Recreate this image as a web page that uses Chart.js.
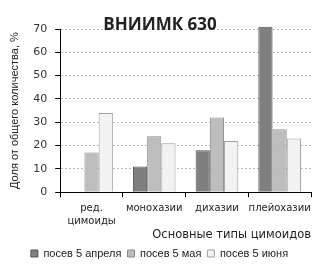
<!DOCTYPE html>
<html>
<head>
<meta charset="utf-8">
<script src="https://cdn.jsdelivr.net/npm/chart.js@4.4.1/dist/chart.umd.min.js"></script>
<style>
  body { margin: 0; background: #fff; }
  canvas { display: block; }
</style>
</head>
<body>
<canvas id="chart" width="322" height="275"></canvas>
<script>
const categories = [['ред.', 'цимоиды'], 'монохазии', 'дихазии', 'плейохазии'];
const april = [0, 11, 18, 71];
const may = [17, 24, 32, 27];
const june = [34, 21, 22, 23];
const seriesNames = ['посев 5 апреля', 'посев 5 мая', 'посев 5 июня'];
const yTicks = [0, 10, 20, 30, 40, 50, 60, 70];

const titlePlugin = {
  id: 'topTitle',
  afterDraw(chart) {
    const ctx = chart.ctx;
    ctx.save();
    ctx.font = 'bold 17px "Open Sans", sans-serif';
    ctx.fillStyle = '#222';
    ctx.textAlign = 'center';
    ctx.textBaseline = 'middle';
    ctx.fillText('ВНИИМК 630', 160, 25);
    ctx.restore();
  }
};

new Chart(document.getElementById('chart'), {
  type: 'bar',
  data: {
    labels: categories,
    datasets: [
      { label: seriesNames[0], data: april, backgroundColor: '#7f7f7f', borderColor: '#555', borderWidth: 1 },
      { label: seriesNames[1], data: may, backgroundColor: '#bdbdbd', borderColor: '#8a8a8a', borderWidth: 1 },
      { label: seriesNames[2], data: june, backgroundColor: '#f2f2f2', borderColor: '#a0a0a0', borderWidth: 1 }
    ]
  },
  options: {
    responsive: false,
    animation: false,
    layout: { padding: { top: 29, right: 11, left: 8, bottom: 6 } },
    datasets: { bar: { categoryPercentage: 0.68, barPercentage: 1, clip: false } },
    plugins: {
      title: { display: false },
      tooltip: { enabled: false },
      legend: {
        position: 'bottom',
        align: 'center',
        labels: {
          boxWidth: 7,
          boxHeight: 7,
          padding: 6,
          color: '#222',
          font: { family: '"Liberation Sans", Arial, sans-serif', size: 11 }
        }
      }
    },
    scales: {
      x: {
        grid: { offset: true, drawOnChartArea: false, tickLength: 5, color: '#000', tickColor: '#000' },
        border: { color: '#000', width: 1 },
        ticks: { color: '#222', padding: 4, maxRotation: 0, autoSkip: false,
          font: { family: '"DejaVu Sans", sans-serif', size: 10, lineHeight: 1.35 } },
        title: {
          display: true, text: 'Основные типы цимоидов', align: 'end', color: '#222',
          padding: { top: -4, bottom: 0 },
          font: { family: '"DejaVu Sans", sans-serif', size: 11.5 }
        }
      },
      y: {
        min: 0, max: 70,
        afterBuildTicks(axis) { axis.ticks = yTicks.map(v => ({ value: v })); },
        grid: { color: '#b8b8b8', tickColor: '#000', tickLength: 5, lineWidth: 1 },
        border: { color: '#000', width: 1, dash: [2, 2] },
        ticks: { color: '#333', padding: 8,
          font: { family: '"DejaVu Sans", sans-serif', size: 11 } },
        title: {
          display: true, text: 'Доля от общего количества, %', color: '#222',
          padding: { top: 0, bottom: 4 },
          font: { family: '"Liberation Sans", Arial, sans-serif', size: 11 }
        }
      }
    }
  },
  plugins: [titlePlugin]
});
</script>
</body>
</html>
